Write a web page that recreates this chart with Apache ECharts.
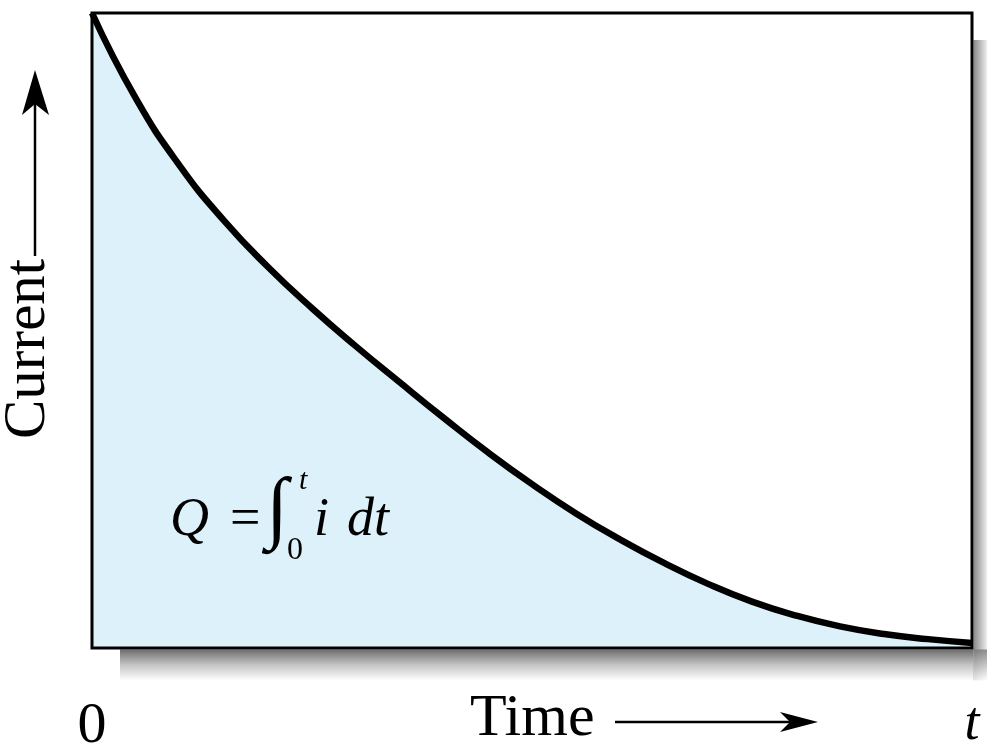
<!DOCTYPE html>
<html>
<head>
<meta charset="utf-8">
<script src="https://cdn.jsdelivr.net/npm/echarts@6/dist/echarts.min.js"></script>
<style>
html,body{margin:0;padding:0;background:#fff;}
#chart{width:987px;height:745px;}
</style>
</head>
<body>
<div id="chart"></div>
<script>
// Data (time and current in relative units 0..100)
var timeValues = [0, 5, 10, 15, 20, 25, 30, 35, 40, 45, 50, 55, 60, 65, 70, 75, 80, 85, 90, 95, 100];
var currentValues = [100, 86.5, 75.9, 67.3, 60.0, 53.5, 47.5, 41.8, 36.2, 30.8, 25.8, 21.2, 17.1, 13.4, 10.1, 7.3, 5.1, 3.4, 2.2, 1.4, 0.8];
var xTickValues = [0, 100];
var xTickLabels = ['0', 't'];
var xAxisTitle = 'Time';
var yAxisTitle = 'Current';

var seriesData = timeValues.map(function (t, k) { return [t, currentValues[k]]; });
var serif = '"Liberation Serif", "DejaVu Serif", serif';

var chart = echarts.init(document.getElementById('chart'), null, {renderer: 'canvas'});
chart.setOption({
  animation: false,
  backgroundColor: '#ffffff',
  grid: {
    left: 92, right: 15, top: 13, bottom: 97,
    outerBoundsMode: 'none',
    containLabel: false,
    show: true,
    backgroundColor: '#ffffff',
    borderColor: '#000000',
    borderWidth: 0
  },
  xAxis: {
    type: 'value', min: 0, max: 100,
    axisLine: {show: false}, axisTick: {show: false}, splitLine: {show: false},
    axisLabel: {
      customValues: xTickValues,
      margin: 50,
      formatter: function (v) {
        var idx = xTickValues.indexOf(v);
        var s = idx >= 0 ? xTickLabels[idx] : '';
        return idx === 0 ? '{n|' + s + '}' : '{it|' + s + '}';
      },
      rich: {
        n: {fontFamily: serif, fontSize: 58, color: '#000'},
        it: {fontFamily: serif, fontSize: 54, fontStyle: 'italic', color: '#000'}
      }
    }
  },
  yAxis: {
    type: 'value', min: 0, max: 100,
    axisLine: {show: false}, axisTick: {show: false}, splitLine: {show: false},
    axisLabel: {show: false}
  },
  series: [{
    type: 'line',
    data: seriesData,
    smooth: true,
    symbol: 'none',
    clip: true,
    lineStyle: {color: '#000000', width: 6.5},
    areaStyle: {color: '#ddf1fb', origin: 'start', opacity: 1}
  }],
  graphic: [
    // drop shadow on the right and bottom of the box
    {type: 'rect', z: 0, shape: {x: 973.5, y: 40, width: 14, height: 640},
     style: {fill: new echarts.graphic.LinearGradient(0, 0, 1, 0, [{offset: 0, color: '#888888'}, {offset: 1, color: '#f2f2f2'}])}, silent: true},
    {type: 'rect', z: 0, shape: {x: 120, y: 649.5, width: 853.5, height: 31},
     style: {fill: new echarts.graphic.LinearGradient(0, 0, 0, 1, [{offset: 0, color: '#6e6e6e'}, {offset: 0.5, color: '#c4c4c4'}, {offset: 1, color: '#ffffff'}])}, silent: true},
    {type: 'rect', z: 0, shape: {x: 973.5, y: 649.5, width: 14, height: 31},
     style: {fill: new echarts.graphic.LinearGradient(0, 0, 1, 1, [{offset: 0, color: '#7a7a7a'}, {offset: 1, color: '#ffffff'}])}, silent: true},
    // plot frame
    {type: 'rect', z: 100, shape: {x: 92, y: 13, width: 880, height: 635},
     style: {fill: null, stroke: '#000', lineWidth: 3}, silent: true},
    // x axis title and arrow
    {type: 'text', z: 100, left: 470, top: 689,
     style: {text: xAxisTitle, font: '60px ' + serif, fill: '#000'}},
    {type: 'line', z: 100, shape: {x1: 615, y1: 722, x2: 795, y2: 722}, style: {stroke: '#000', lineWidth: 2.5}},
    {type: 'polygon', z: 100, shape: {points: [[818, 722], [780, 712], [790, 722], [780, 732]]}, style: {fill: '#000'}},
    // y axis title and arrow
    {type: 'text', z: 100, x: 58, y: 439, rotation: Math.PI / 2,
     style: {text: yAxisTitle, font: '59px ' + serif, fill: '#000', verticalAlign: 'bottom', align: 'left'}},
    {type: 'line', z: 100, shape: {x1: 35, y1: 256, x2: 35, y2: 100}, style: {stroke: '#000', lineWidth: 2.5}},
    {type: 'polygon', z: 100, shape: {points: [[35, 70], [22, 115], [35, 104], [49, 115]]}, style: {fill: '#000'}},
    // formula Q = ∫_0^t i dt
    {type: 'text', z: 100, left: 170, top: 494, style: {text: 'Q', font: 'italic 54px ' + serif, fill: '#000'}},
    {type: 'text', z: 100, left: 230, top: 494, style: {text: '=', font: '54px ' + serif, fill: '#000'}},
    {type: 'text', z: 100, left: 266, top: 472, style: {text: '\u222B', font: 'italic 80px ' + serif, fill: '#000'}},
    {type: 'text', z: 100, left: 299, top: 466, style: {text: 't', font: 'italic 30px ' + serif, fill: '#000'}},
    {type: 'text', z: 100, left: 287, top: 535, style: {text: '0', font: '32px ' + serif, fill: '#000'}},
    {type: 'text', z: 100, left: 314, top: 494, style: {text: 'i', font: 'italic 54px ' + serif, fill: '#000'}},
    {type: 'text', z: 100, left: 347, top: 494, style: {text: 'dt', font: 'italic 54px ' + serif, fill: '#000'}}
  ]
});
</script>
</body>
</html>
